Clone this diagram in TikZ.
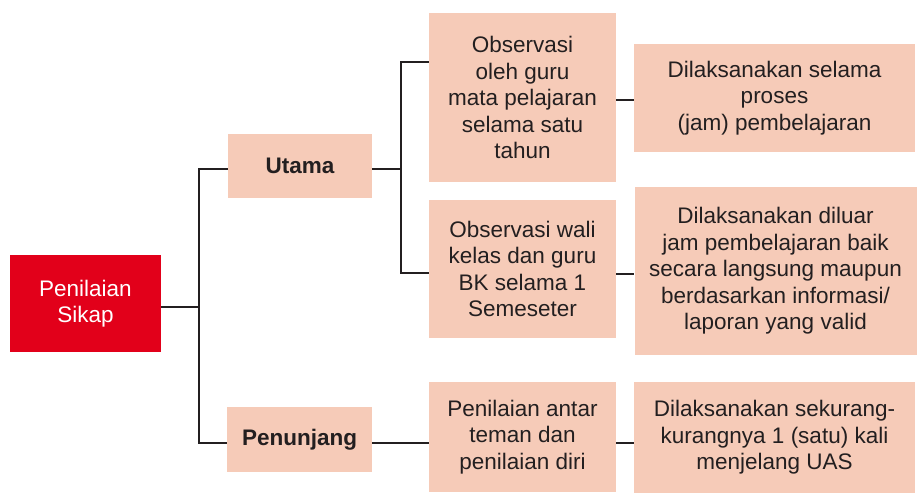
\documentclass[tikz,border=0pt]{standalone}
\usepackage{fontspec}
\setmainfont{Liberation Sans}
\usepackage{tikz}
\usetikzlibrary{positioning,calc}
\definecolor{peach}{HTML}{F6CBB8}
\definecolor{rootred}{HTML}{E2001A}
\definecolor{linegray}{HTML}{231F20}
\tikzset{
    box/.style={rectangle, fill=peach, inner sep=0pt, align=center, text=linegray,
        font=\fontsize{22.5}{26.5}\selectfont},
    rootbox/.style={box, fill=rootred, text=white},
    link/.style={draw=linegray, line width=2.6pt}
}

\begin{document}
\begin{tikzpicture}[x=1pt, y=-1pt]
    \useasboundingbox (0,0) rectangle (918,493);
    % Nodes
    \node[rootbox, minimum width=151pt, minimum height=97pt] (root) at (85.5,303.5) {Penilaian\\Sikap};
    \node[box, minimum width=144pt, minimum height=64pt, font=\fontsize{22.5}{26.5}\selectfont\bfseries] (utama) at (300,166) {Utama};
    \node[box, minimum width=145pt, minimum height=65pt, font=\fontsize{22.5}{26.5}\selectfont\bfseries] (penunjang) at (299.5,439.5) {Penunjang};
    \node[box, minimum width=187pt, minimum height=169pt] (obsguru) at (522.5,97.5) {Observasi\\oleh guru\\mata pelajaran\\selama satu\\tahun};
    \node[box, minimum width=187pt, minimum height=138pt] (obswali) at (522.5,269) {Observasi wali\\kelas dan guru\\BK selama 1\\Semeseter};
    \node[box, minimum width=187pt, minimum height=110pt] (antar) at (522.5,437) {Penilaian antar\\teman dan\\penilaian diri};
    \node[box, minimum width=281pt, minimum height=108pt] (proses) at (774.5,98) {Dilaksanakan selama\\proses\\(jam) pembelajaran};
    \node[box, minimum width=282pt, minimum height=168pt] (diluar) at (775.5,271) {Dilaksanakan diluar\\jam pembelajaran baik\\secara langsung maupun\\berdasarkan informasi/\\laporan yang valid};
    \node[box, minimum width=281pt, minimum height=111pt] (uas) at (774.5,437.5) {Dilaksanakan sekurang-\\kurangnya 1 (satu) kali\\menjelang UAS};

    % edges
    \coordinate (trunk) at (199,307);
    \coordinate (fork) at (401,169);
    \draw[link] (root.east |- trunk) -- (trunk);
    \draw[link] (utama.west |- 0,169) -| (trunk |- 0,169) -- (trunk |- 0,443) -- (penunjang.west |- 0,443);
    \draw[link] (utama.east |- fork) -- (fork);
    \draw[link] (obsguru.west |- 0,62) -| (fork) |- (obswali.west |- 0,273);
    \draw[link] (obsguru.east |- 0,100) -- (proses.west |- 0,100);
    \draw[link] (obswali.east |- 0,274) -- (diluar.west |- 0,274);
    \draw[link] (penunjang.east |- 0,443) -- (antar.west |- 0,443);
    \draw[link] (antar.east |- 0,443) -- (uas.west |- 0,443);
\end{tikzpicture}
\end{document}
